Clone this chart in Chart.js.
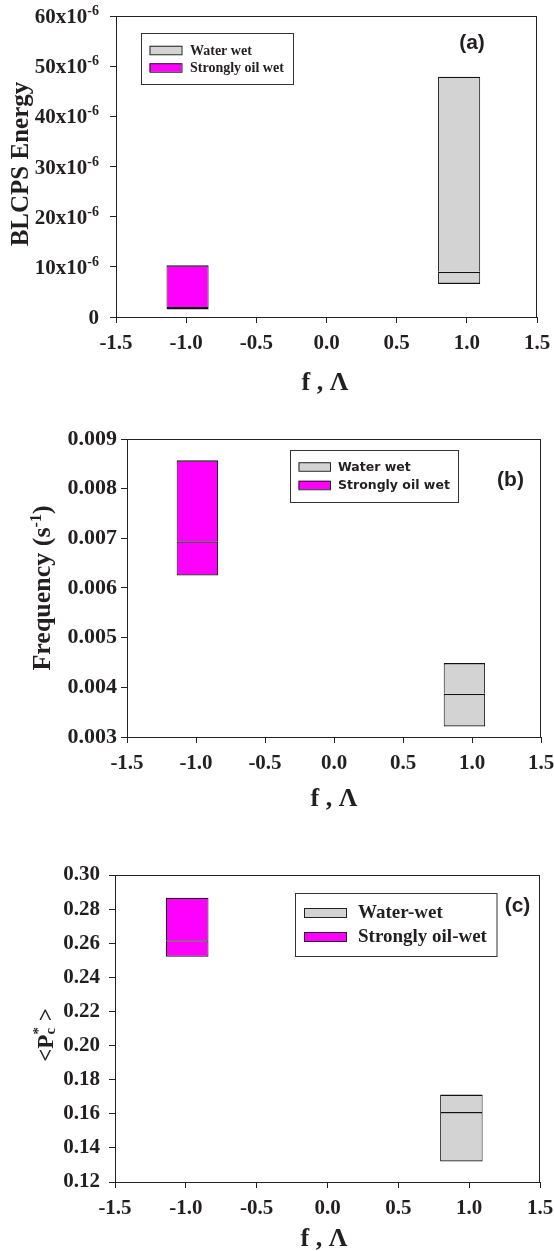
<!DOCTYPE html>
<html>
<head>
<meta charset="utf-8">
<script src="https://cdn.jsdelivr.net/npm/chart.js@4.4.1/dist/chart.umd.min.js"></script>
<style>
  html, body { margin: 0; padding: 0; background: #fff; }
  #page { position: relative; width: 554px; height: 1251px; }
  .panel { position: absolute; left: 0; width: 554px; }
  canvas { display: block; }
</style>
</head>
<body>
<div id="page">
  <div class="panel" style="top:0"><canvas id="chartA" width="554" height="400"></canvas></div>
  <div class="panel" style="top:400px"><canvas id="chartB" width="554" height="420"></canvas></div>
  <div class="panel" style="top:820px"><canvas id="chartC" width="554" height="431"></canvas></div>
</div>
<script>
// shared x axis (f, Lambda) and box positions: water wet, strongly oil wet
const xTicks = [-1.5, -1.0, -0.5, 0.0, 0.5, 1.0, 1.5];
const xCenters = [0.945, -0.99];
const groupsAB = ['Water wet', 'Strongly oil wet'];
const groupsC = ['Water-wet', 'Strongly oil-wet'];

// box values: [bottom, median, top]
const energyWater = [6.6e-6, 9.0e-6, 47.9e-6];
const energyOil = [1.5e-6, 2.0e-6, 10.3e-6];
const energyTicks = [0, 10e-6, 20e-6, 30e-6, 40e-6, 50e-6, 60e-6];

const freqWater = [0.00321, 0.00387, 0.00449];
const freqOil = [0.00625, 0.00694, 0.00857];
const freqTicks = [0.003, 0.004, 0.005, 0.006, 0.007, 0.008, 0.009];

const pcWater = [0.132, 0.161, 0.1713];
const pcOil = [0.252, 0.2618, 0.2867];
const pcTicks = [0.12, 0.14, 0.16, 0.18, 0.20, 0.22, 0.24, 0.26, 0.28, 0.30];

const fills = ['#d3d3d3', '#ff00ff'];
const ink = '#231f20';
const SERIF = '"Liberation Serif", "Times New Roman", serif';
const W = 554;

// two floating bars per box; the lower one is drawn last, so its top edge is the median line
function boxSets(labels, series) {
  const edge = {top: 1.4, bottom: 1.4, left: 1, right: 1};
  const out = [];
  series.forEach((s, i) => {
    out.push({
      label: labels[i], data: [{x: xCenters[i], y: [s[0], s[1]]}],
      backgroundColor: fills[i], borderColor: '#111', borderWidth: edge, borderSkipped: false
    });
    out.push({
      label: labels[i], data: [{x: xCenters[i], y: [s[1], s[2]]}],
      backgroundColor: fills[i], borderColor: '#111', borderWidth: edge, borderSkipped: 'bottom'
    });
  });
  return out;
}

// text runs along a baseline; a run with stack:true does not advance
function runsWidth(ctx, runs) {
  let w = 0, pend = 0;
  runs.forEach(r => {
    ctx.font = 'bold ' + r.size + 'px ' + SERIF;
    const rw = ctx.measureText(r.t).width;
    if (r.stack) pend = rw; else { w += Math.max(rw, pend); pend = 0; }
  });
  return w;
}
function drawRuns(ctx, runs, x0) {
  let x = x0, pend = 0;
  runs.forEach(r => {
    ctx.font = 'bold ' + r.size + 'px ' + SERIF;
    ctx.fillText(r.t, x, r.dy || 0);
    const rw = ctx.measureText(r.t).width;
    if (r.stack) pend = rw; else { x += Math.max(rw, pend); pend = 0; }
  });
}

function decor(o) {
  return {
    id: 'decor',
    afterDraw(chart) {
      const ctx = chart.ctx;
      const a = chart.chartArea;
      ctx.save();
      // frame
      ctx.strokeStyle = '#222';
      ctx.lineWidth = 1;
      ctx.strokeRect(Math.round(a.left) + 0.5, Math.round(a.top) + 0.5,
        Math.round(a.right - a.left) - 1, Math.round(a.bottom - a.top));
      ctx.fillStyle = ink;
      ctx.textBaseline = 'alphabetic';

      // y labels with superscripts (panel a)
      if (o.supTicks) {
        const y = chart.scales.y;
        o.supTicks.forEach(v => {
          const py = y.getPixelForValue(v);
          ctx.textAlign = 'right';
          if (v === 0) {
            ctx.font = 'bold 21px ' + SERIF;
            ctx.fillText('0', o.tickRight, py + 7);
            return;
          }
          ctx.font = 'bold 14px ' + SERIF;
          const sw = ctx.measureText('-6').width;
          ctx.fillText('-6', o.tickRight, py - 1);
          ctx.font = 'bold 21px ' + SERIF;
          ctx.fillText(Math.round(v * 1e6) + 'x10', o.tickRight - sw, py + 7);
        });
      }

      // x title
      ctx.textAlign = 'center';
      ctx.font = 'bold 26px ' + SERIF;
      ctx.fillText('f , \u039B', o.xTitle.x, o.xTitle.y);

      // y title, rotated
      ctx.save();
      ctx.translate(o.yTitle.x, o.yTitle.cy);
      ctx.rotate(-Math.PI / 2);
      ctx.textAlign = 'left';
      drawRuns(ctx, o.yTitle.runs, -runsWidth(ctx, o.yTitle.runs) / 2);
      ctx.restore();

      // legend
      const L = o.legend;
      ctx.fillStyle = '#fff';
      ctx.fillRect(L.x, L.y, L.w, L.h);
      ctx.strokeStyle = '#333';
      ctx.strokeRect(L.x + 0.5, L.y + 0.5, L.w, L.h);
      o.labels.forEach((lab, i) => {
        const cy = L.rows[i];
        ctx.fillStyle = fills[i];
        ctx.fillRect(L.sx, cy - L.sh / 2, L.sw, L.sh);
        ctx.strokeStyle = '#222';
        ctx.strokeRect(L.sx + 0.5, cy - L.sh / 2 + 0.5, L.sw, L.sh);
        ctx.fillStyle = ink;
        ctx.textAlign = 'left';
        ctx.textBaseline = 'middle';
        ctx.font = L.font;
        ctx.fillText(lab, L.tx, cy + 1);
      });

      // panel tag
      ctx.font = 'bold 21px "Liberation Sans", Arial, sans-serif';
      ctx.textAlign = 'center';
      ctx.textBaseline = 'middle';
      ctx.fillText(o.tag.t, o.tag.x, o.tag.y);
      ctx.restore();
    }
  };
}

function makeChart(id, o) {
  const tickFont = {family: SERIF, size: 21, weight: 'bold'};
  const gridOpts = {drawOnChartArea: false, drawTicks: true, tickLength: 6, color: '#222', offset: false};
  return new Chart(document.getElementById(id), {
    type: 'bar',
    data: {datasets: boxSets(o.labels, o.series)},
    options: {
      responsive: false,
      animation: false,
      events: [],
      layout: {autoPadding: false, padding: {top: o.area.top, right: W - o.area.right, left: 0, bottom: 0}},
      plugins: {legend: {display: false}, tooltip: {enabled: false}},
      datasets: {bar: {grouped: false, categoryPercentage: 1, barPercentage: 0.6, inflateAmount: 0}},
      scales: {
        x: {
          type: 'linear', min: -1.5, max: 1.5, offset: false,
          afterBuildTicks: s => { s.ticks = xTicks.map(v => ({value: v})); },
          afterFit: s => { s.height = o.height - o.area.bottom; s.paddingLeft = 0; s.paddingRight = 0; },
          ticks: {font: tickFont, color: ink, padding: 8, maxRotation: 0, autoSkip: false,
                  callback: v => v.toFixed(1)},
          grid: gridOpts,
          border: {display: true, color: '#222', width: 1}
        },
        y: {
          type: 'linear', min: o.yTicks[0], max: o.yTicks[o.yTicks.length - 1],
          afterBuildTicks: s => { s.ticks = o.yTicks.map(v => ({value: v})); },
          afterFit: s => { s.width = o.area.left; s.paddingTop = 0; s.paddingBottom = 0; },
          ticks: {font: Object.assign({}, tickFont, {size: o.ySize || 21}), color: ink, padding: o.yPad,
                  autoSkip: false, callback: o.yFormat},
          grid: gridOpts,
          border: {display: true, color: '#222', width: 1}
        }
      }
    },
    plugins: [decor(o)]
  });
}

makeChart('chartA', {
  height: 400,
  area: {left: 116, right: 537, top: 16, bottom: 317},
  series: [energyWater, energyOil],
  labels: groupsAB,
  yTicks: energyTicks,
  yFormat: () => '',
  yPad: 9,
  supTicks: energyTicks,
  tickRight: 99,
  xTitle: {x: 325, y: 390},
  yTitle: {x: 28, cy: 164, runs: [{t: 'BLCPS Energy', size: 25}]},
  legend: {x: 141, y: 33, w: 152, h: 51, sx: 149.5, sw: 32, sh: 8.5, rows: [50, 67.5], tx: 190,
           font: 'bold 14px ' + SERIF},
  tag: {t: '(a)', x: 472, y: 43}
});

makeChart('chartB', {
  height: 420,
  area: {left: 127, right: 541, top: 39, bottom: 337},
  series: [freqWater, freqOil],
  labels: groupsAB,
  yTicks: freqTicks,
  yFormat: v => v.toFixed(3),
  yPad: 4,
  ySize: 22,
  xTitle: {x: 334, y: 406},
  yTitle: {x: 50, cy: 188, runs: [{t: 'Frequency (s', size: 26}, {t: '-1', size: 16, dy: -9}, {t: ')', size: 26}]},
  legend: {x: 290, y: 50, w: 168, h: 52, sx: 298.5, sw: 31.5, sh: 8.5, rows: [66.5, 85], tx: 338,
           font: 'bold 12.5px "DejaVu Sans", Verdana, sans-serif'},
  tag: {t: '(b)', x: 510.5, y: 80}
});

makeChart('chartC', {
  height: 431,
  area: {left: 115, right: 540, top: 55, bottom: 362},
  series: [pcWater, pcOil],
  labels: groupsC,
  yTicks: pcTicks,
  yFormat: v => v.toFixed(2),
  yPad: 9,
  xTitle: {x: 324, y: 426},
  yTitle: {x: 53, cy: 215, runs: [{t: '<P', size: 23}, {t: 'c', size: 15, dy: 2, stack: true},
                                  {t: '*', size: 15, dy: -10}, {t: ' >', size: 23}]},
  legend: {x: 295, y: 73, w: 201.5, h: 63, sx: 304, sw: 42, sh: 9, rows: [92.5, 116.5], tx: 358,
           font: 'bold 19px ' + SERIF},
  tag: {t: '(c)', x: 517.5, y: 86}
});
</script>
</body>
</html>
